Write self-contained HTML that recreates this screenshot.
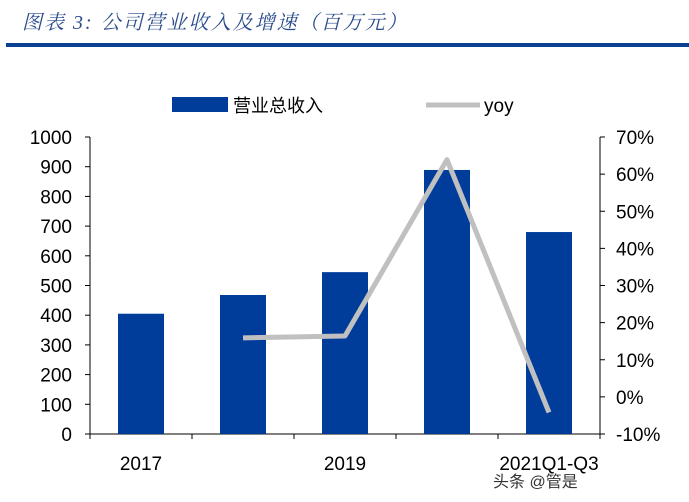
<!DOCTYPE html>
<html><head><meta charset="utf-8"><style>
body{margin:0;background:#fff;width:689px;height:502px;overflow:hidden}
svg{display:block;font-family:"Liberation Sans","Noto Sans CJK SC",sans-serif}
</style></head><body>
<svg id="c" width="689" height="502" xmlns="http://www.w3.org/2000/svg">
<text x="22" y="29" font-size="20" font-style="italic" letter-spacing="2" fill="#2b4c8c" font-family="'Liberation Serif','Noto Serif CJK SC',serif">图表 3:  公司营业收入及增速（百万元）</text>
<rect x="6" y="43" width="683" height="4" fill="#0a4190"/>
<g>
<rect x="172" y="97" width="56" height="15" fill="#003d9b"/>
<text x="233" y="112" font-size="18" fill="#000">营业总收入</text>
<line x1="426" y1="105" x2="480" y2="105" stroke="#c0c0c0" stroke-width="5"/>
<text x="484" y="112" font-size="19" fill="#000">yoy</text>
</g>
<g id="plot"></g>
<text x="493" y="487" font-size="16" fill="#333">头条 @管是</text>
</svg>
<script>
const categories=["2017","2018","2019","2020","2021Q1-Q3"];
const revenue=[405,468,545,889,680];
const yoy=[null,15.9,16.4,63.9,-4.2];
const leftTicks=[0,100,200,300,400,500,600,700,800,900,1000];
const rightTicks=[-10,0,10,20,30,40,50,60,70];
const xLabels=["2017","","2019","","2021Q1-Q3"];
const NS="http://www.w3.org/2000/svg";
const g=document.getElementById('plot');
const x0=90,x1=600,yB=434,yT=137;
const yL=v=>yB-(v/1000)*(yB-yT);
const yR=v=>yB-((v+10)/80)*(yB-yT);
const step=(x1-x0)/categories.length;
const xc=i=>x0+step*(i+0.5);
function mk(t,a){const e=document.createElementNS(NS,t);for(const k in a)e.setAttribute(k,a[k]);g.appendChild(e);return e;}
let e;
e=mk('line',{x1:x0,y1:yT,x2:x0,y2:yB,stroke:'#000'});


e=mk('line',{x1:x1,y1:yT,x2:x1,y2:yB,stroke:'#000'});


e=mk('line',{x1:x0,y1:yB,x2:x1,y2:yB,stroke:'#000'});


leftTicks.forEach(v=>{
 mk('line',{x1:x0-5,y1:yL(v),x2:x0,y2:yL(v),stroke:'#000'});
 e=mk('text',{x:x0-18,y:yL(v)+7,'font-size':19,'text-anchor':'end'});e.textContent=v;
 
 
});
rightTicks.forEach(v=>{
 mk('line',{x1:x1,y1:yR(v),x2:x1+5,y2:yR(v),stroke:'#000'});
 e=mk('text',{x:x1+16,y:yR(v)+7,'font-size':19});e.textContent=v+'%';
 
 
});
for(let i=0;i<=categories.length;i++)mk('line',{x1:x0+step*i,y1:yB,x2:x0+step*i,y2:yB+5,stroke:'#000'});
xLabels.forEach((l,i)=>{if(!l)return;e=mk('text',{x:xc(i),y:470,'font-size':19,'text-anchor':'middle'});e.textContent=l;
 
 });
revenue.forEach((v,i)=>{
 e=mk('rect',{x:xc(i)-23,y:yL(v),width:46,height:yB-yL(v),fill:'#003d9b'});
 
 
});
const pts=yoy.map((v,i)=>v==null?null:[xc(i),yR(v)]).filter(p=>p);
e=mk('polyline',{points:pts.map(p=>p.join(',')).join(' '),fill:'none',stroke:'#c0c0c0','stroke-width':5,'stroke-linejoin':'round'});


</script>
</body></html>
